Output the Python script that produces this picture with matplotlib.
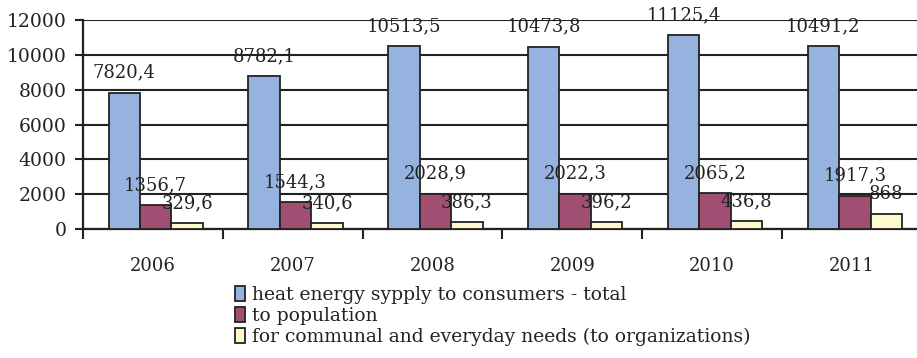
import numpy as np
import matplotlib
matplotlib.use("Agg")
import matplotlib.pyplot as plt

years = ["2006", "2007", "2008", "2009", "2010", "2011"]
total = [7820.4, 8782.1, 10513.5, 10473.8, 11125.4, 10491.2]
population = [1356.7, 1544.3, 2028.9, 2022.3, 2065.2, 1917.3]
organizations = [329.6, 340.6, 386.3, 396.2, 436.8, 868]
series_names = [
    "heat energy sypply to consumers - total",
    "to population",
    "for communal and everyday needs (to organizations)",
]
colors = ["#95b3de", "#a04f73", "#fffacd"]
yticks = [0, 2000, 4000, 6000, 8000, 10000, 12000]

plt.rcParams["font.family"] = ["DejaVu Serif", "Liberation Serif"]

fig = plt.figure(figsize=(9.17, 3.58), dpi=100)
W, H = 917, 358
left, right, top, bottom = 83, 922, 20, 229
ax = fig.add_axes([left / W, 1 - bottom / H, (right - left) / W, (bottom - top) / H])

x = np.arange(len(years))
bw = 0.225
fs = 13
ink = "#222222"
for i, (vals, c, name) in enumerate(zip([total, population, organizations], colors, series_names)):
    pos = x + (i - 1) * bw + 0.02
    ax.bar(pos, vals, width=bw, color=c, edgecolor=ink, linewidth=1.3,
           label=name, zorder=3)
    for p, v in zip(pos, vals):
        lbl = f"{v:g}".replace(".", ",")
        ax.annotate(lbl, (p, v), xytext=(0, 20), textcoords="offset pixels",
                    ha="center", va="center", fontsize=fs, color=ink, zorder=4)

ax.set_xlim(-0.5, len(years) - 0.5)
ax.set_ylim(0, 12000)
ax.set_yticks(yticks)
ax.set_yticklabels([str(t) for t in yticks], fontsize=13.5)
ax.yaxis.grid(True, color=ink, linewidth=1.5, zorder=0)
ax.set_axisbelow(True)

ax.set_xticks(x)
ax.set_xticklabels(years, fontsize=fs)
ax.set_xticks(np.arange(len(years) + 1) - 0.5, minor=True)
ax.tick_params(axis="x", which="major", length=0, pad=20)
ax.tick_params(axis="x", which="minor", length=7, width=1.5, color=ink, direction="out")
ax.tick_params(axis="y", length=6, width=1.5, color=ink, pad=6, labelcolor=ink)
ax.tick_params(axis="x", labelcolor=ink)

for s in ["top", "right"]:
    ax.spines[s].set_visible(False)
for s in ["left", "bottom"]:
    ax.spines[s].set_color(ink)
    ax.spines[s].set_linewidth(1.6)

leg = fig.legend(loc="upper left", bbox_to_anchor=(235 / W, 1 - 286 / H), frameon=False,
                 fontsize=13.5, handlelength=0.55, handleheight=0.85, handletextpad=0.35,
                 labelspacing=0.15, borderpad=0, borderaxespad=0)
for t in leg.get_texts():
    t.set_color(ink)

fig.savefig("out.png", dpi=100)
